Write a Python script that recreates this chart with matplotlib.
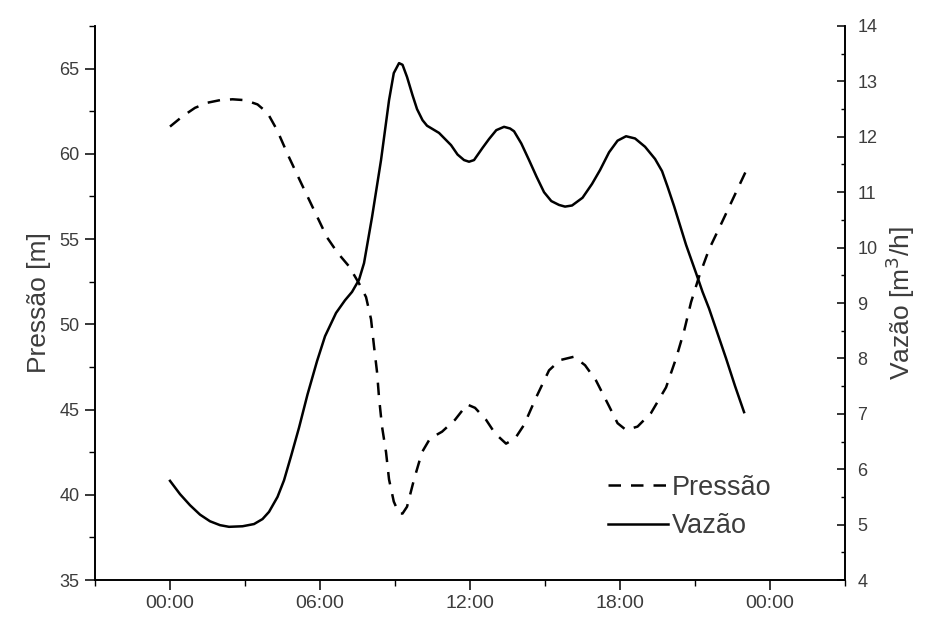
import numpy as np
import matplotlib
matplotlib.use("Agg")
import matplotlib.pyplot as plt
from matplotlib.ticker import MultipleLocator

plt.rcParams['font.family'] = ['Liberation Sans', 'DejaVu Sans']

# pressure (dashed, left axis), hours vs m
t_p = [0.0, 0.5, 1.0, 1.5, 2.0, 2.5, 3.0, 3.5, 3.9, 4.28, 4.76, 5.24, 5.76, 6.28,
       6.7, 7.16, 7.56, 7.84, 8.04, 8.16, 8.28, 8.36, 8.48, 8.64, 8.76, 8.95,
       9.16, 9.3, 9.48, 9.76, 10.08, 10.4, 10.88, 11.4, 11.88, 12.2, 12.64, 13.0,
       13.44, 13.8, 14.16, 14.64, 15.16, 15.6, 16.16, 16.6, 17.04, 17.56, 17.9,
       18.24, 18.7, 19.24, 19.84, 20.24, 20.56, 20.84, 21.16, 21.56, 22.08, 22.56,
       23.04]
pressao = [61.6, 62.2, 62.7, 63.0, 63.15, 63.2, 63.15, 62.9, 62.4, 61.4, 59.8, 58.3,
           56.7, 55.1, 54.2, 53.4, 52.4, 51.6, 50.3, 48.7, 47.2, 45.7, 44.0, 42.5,
           40.9, 39.6, 38.9, 38.9, 39.3, 40.9, 42.5, 43.3, 43.7, 44.4, 45.3, 45.1,
           44.4, 43.6, 43.0, 43.3, 44.1, 45.7, 47.3, 47.9, 48.1, 47.6, 46.7, 45.2,
           44.2, 43.8, 44.0, 44.8, 46.3, 48.0, 49.6, 51.3, 52.8, 54.4, 56.0, 57.5,
           59.0]

# flow (solid, right axis), hours vs m3/h
t_v = [0.0, 0.4, 0.8, 1.2, 1.6, 2.0, 2.36, 2.9, 3.36, 3.7, 3.96, 4.3, 4.56, 4.85,
       5.16, 5.5, 5.88, 6.2, 6.64, 7.0, 7.28, 7.56, 7.76, 8.08, 8.44, 8.76, 8.95,
       9.16, 9.3, 9.48, 9.7, 9.88, 10.1, 10.28, 10.76, 11.24, 11.5, 11.76, 11.96,
       12.16, 12.5, 12.76, 13.05, 13.36, 13.6, 13.76, 14.05, 14.36, 14.66, 14.96,
       15.25, 15.56, 15.8, 16.08, 16.5, 16.88, 17.2, 17.56, 17.9, 18.24, 18.6,
       19.0, 19.4, 19.68, 19.9, 20.16, 20.4, 20.64, 21.04, 21.3, 21.56, 21.9,
       22.24, 22.6, 22.96]
vazao = [5.79, 5.55, 5.35, 5.18, 5.06, 4.99, 4.96, 4.97, 5.01, 5.1, 5.23, 5.5, 5.8,
         6.25, 6.75, 7.35, 7.95, 8.4, 8.82, 9.05, 9.2, 9.42, 9.72, 10.55, 11.58,
         12.66, 13.15, 13.33, 13.3, 13.08, 12.75, 12.5, 12.3, 12.2, 12.07, 11.85,
         11.68, 11.58, 11.55, 11.58, 11.8, 11.96, 12.12, 12.18, 12.15, 12.1, 11.88,
         11.58, 11.28, 11.0, 10.84, 10.77, 10.74, 10.76, 10.9, 11.15, 11.4, 11.72,
         11.93, 12.01, 11.97, 11.82, 11.6, 11.38, 11.1, 10.75, 10.4, 10.05, 9.54,
         9.2, 8.9, 8.45, 8.0, 7.5, 7.03]

xticks = [0, 6, 12, 18, 24]
xlabels = ['00:00', '06:00', '12:00', '18:00', '00:00']

fig = plt.figure(figsize=(9.26, 6.19), dpi=100)
ax = fig.add_axes([0.1026, 0.063, 0.81, 0.895])
ax2 = ax.twinx()

lp, = ax.plot(t_p, pressao, color='black', lw=1.8, ls=(0, (5, 4)), label='Pressão')
lv, = ax2.plot(t_v, vazao, color='black', lw=1.8, label='Vazão')

ax.set_xlim(-3, 27)
ax.set_ylim(35, 67.5)
ax2.set_ylim(4, 14)

ax.set_xticks(xticks)
ax.set_xticklabels(xlabels)
ax.xaxis.set_minor_locator(MultipleLocator(3))
ax.yaxis.set_major_locator(MultipleLocator(5))
ax.yaxis.set_minor_locator(MultipleLocator(2.5))
ax2.yaxis.set_major_locator(MultipleLocator(1))
ax2.yaxis.set_minor_locator(MultipleLocator(0.5))

lab_col = '#3c3c3c'
ax.tick_params(axis='both', which='major', direction='out', length=7, width=1.1,
               labelsize=13, labelcolor=lab_col, pad=4)
ax.tick_params(axis='x', which='major', labelsize=14)
ax.tick_params(axis='both', which='minor', direction='out', length=4, width=1.0)
ax2.tick_params(axis='y', which='major', direction='in', length=6, width=1.1,
                labelsize=13, labelcolor=lab_col, pad=9)
ax2.tick_params(axis='y', which='minor', direction='in', length=3, width=1.0)

for a in (ax, ax2):
    a.spines['top'].set_visible(False)
    for s in a.spines.values():
        s.set_linewidth(1.2)

ax.set_ylabel('Pressão [m]', fontsize=19, color=lab_col, labelpad=6)
ax2.set_ylabel('Vazão [m$^3$/h]', fontsize=19, color=lab_col, labelpad=4)

leg = ax.legend(handles=[lp, lv], loc='lower right', bbox_to_anchor=(0.934, 0.03),
                frameon=False, fontsize=19.5, handlelength=2.2, handletextpad=0.15,
                labelspacing=0.45)
for txt in leg.get_texts():
    txt.set_color(lab_col)

fig.savefig('out.png', dpi=100)
